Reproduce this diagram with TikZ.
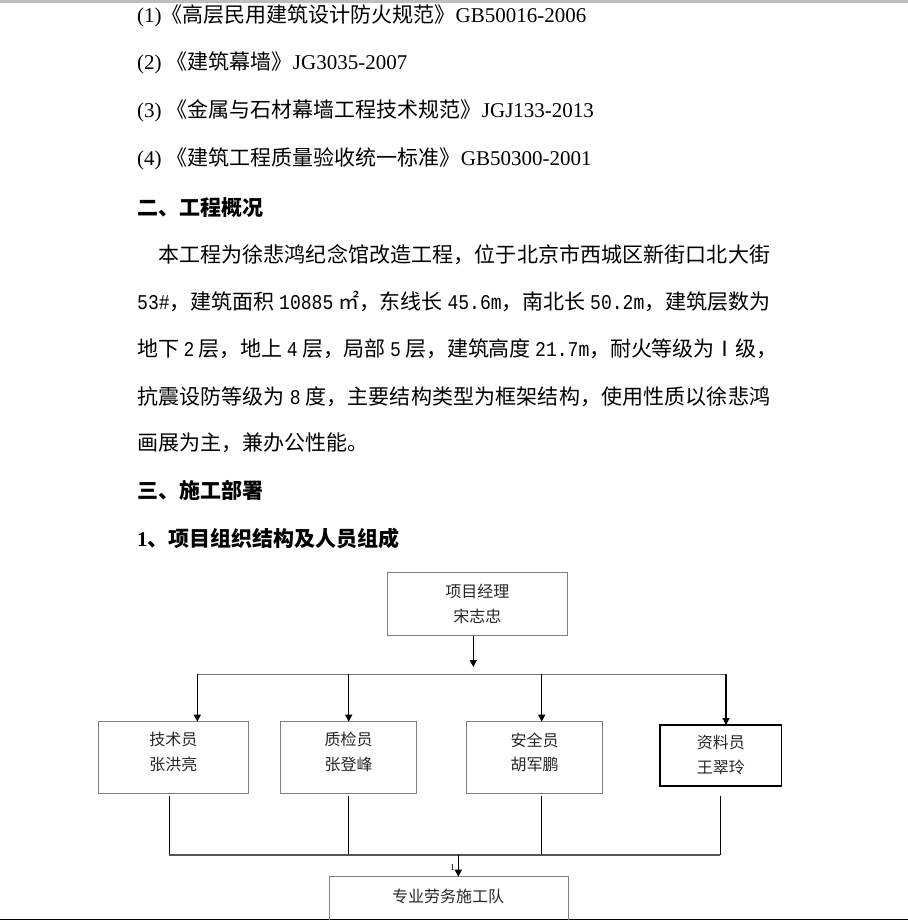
\documentclass[tikz,border=0pt]{standalone}
\usepackage{fontspec}
\setmainfont{Liberation Serif}
\newfontfamily\cjk{Noto Sans CJK SC}
\newfontfamily\numfont[FakeStretch=0.86]{Liberation Mono}
\usetikzlibrary{arrows.meta,positioning}

% glue between hanzi, so a line can be spread to the margin
\newXeTeXintercharclass\hzclass
\newcount\hzcnt
\hzcnt="4E00
\loop
  \XeTeXcharclass\hzcnt=\hzclass
  \advance\hzcnt by 1
\ifnum\hzcnt<"A000 \repeat
\XeTeXcharclass"3001=\hzclass
\XeTeXcharclass"3002=\hzclass
\XeTeXcharclass"300A=\hzclass
\XeTeXcharclass"300B=\hzclass
\XeTeXcharclass"FF0C=\hzclass
\XeTeXcharclass"33A1=\hzclass
\XeTeXcharclass"2160=\hzclass
\XeTeXinterchartoks\hzclass\hzclass={\hskip 0pt plus 3bp minus 1bp\relax}
\XeTeXinterchartokenstate=1

\definecolor{boxgray}{RGB}{128,128,128}
\definecolor{busgray}{RGB}{115,115,115}
\definecolor{lowgray}{RGB}{85,85,85}
\definecolor{rulegray}{RGB}{190,190,190}

\tikzset{
  txt/.style={anchor=west, inner sep=0pt, font=\fontsize{21bp}{25bp}\selectfont},
  box/.style={draw=boxgray, line width=1bp, inner sep=0pt, outer sep=0pt},
  lbl/.style={inner sep=0pt, align=center, text=black!85,
    font=\cjk\fontsize{16bp}{24.5bp}\selectfont},
  arr/.style={draw=black, line width=1.3bp, -{Triangle[length=7bp,width=7bp]}},
}

\begin{document}
\begin{tikzpicture}[x=1bp,y=-1bp]

\useasboundingbox (0,0) rectangle (908,920);
\clip (0,0) rectangle (908,920);

% page edges
\fill[rulegray] (0,0) rectangle (908,2.5);
\fill[black] (0,918.5) rectangle (908,920);

% text above the chart
\node[txt] (nRef1) at (137,16)  {(1){\cjk 《高层民用建筑设计防火规范》}GB50016-2006};
\node[txt] (nRef2) at (137,63)  {(2) {\cjk 《建筑幕墙》}JG3035-2007};
\node[txt] (nRef3) at (137,111) {(3) {\cjk 《金属与石材幕墙工程技术规范》}JGJ133-2013};
\node[txt] (nRef4) at (137,159) {(4) {\cjk 《建筑工程质量验收统一标准》}GB50300-2001};
\node[txt] (nHeadB) at (137,208) {\bfseries\cjk 二、工程概况};
\node[txt] (nPar1) at (158,255) {\cjk\makebox[612bp][s]{本工程为徐悲鸿纪念馆改造工程，位于北京市西城区新街口北大街}};
\node[txt] (nPar2) at (137,301.7) {\cjk\makebox[633bp][s]{{\numfont 53\#}，建筑面积 {\numfont 10885} ㎡，东线长 {\numfont 45.6m}，南北长 {\numfont 50.2m}，建筑层数为}};
\node[txt] (nPar3) at (137,349) {\cjk\makebox[640bp][s]{地下 {\numfont 2} 层，地上 {\numfont 4} 层，局部 {\numfont 5} 层，建筑高度 {\numfont 21.7m}，耐火等级为Ⅰ级，}};
\node[txt] (nPar4) at (137,396.5) {\cjk\makebox[633bp][s]{抗震设防等级为 {\numfont 8} 度，主要结构类型为框架结构，使用性质以徐悲鸿}};
\node[txt] (nPar5) at (137,443) {\cjk 画展为主，兼办公性能。};
\node[txt] (nHeadC) at (137,490) {\bfseries\cjk 三、施工部署};
\node[txt] (nHeadC1) at (137,538.3) {\bfseries 1{\cjk 、项目组织结构及人员组成}};

% chart
\node[box, minimum width=180bp, minimum height=63.3bp] (nPM) at (477.3,604.3) {};
\node[lbl] (nPMt) at (477.3,603.9) {项目经理\\宋志忠};
\foreach \n/\x/\y/\w/\h/\c/\lw/\ty/\a/\b in
{   nJS/173.3/757.5/150/71.6/boxgray/1/752/技术员/张洪亮,
    nZJ/348.5/757.5/135.6/71.6/boxgray/1/752/质检员/张登峰,
    nAQ/534.5/757.5/135.6/71.6/boxgray/1/752.5/安全员/胡军鹏,
    nZL/720.8/755.5/121.7/61/black/1.6/755/资料员/王翠玲%
}
{
    \node[box, draw=\c, line width=\lw bp, minimum width=\w bp, minimum height=\h bp] (\n) at (\x,\y) {};
    \node[lbl] (\n t) at (\x,\ty) {\a\\\b};
};
\node[box, minimum width=239.3bp, minimum height=44bp] (nDW) at (448.7,898.7) {};
\node[lbl] (nDWt) at (448,896.7) {专业劳务施工队};

\coordinate (cTopPt) at (473.3,667);
\coordinate (cBusLPt) at (197.3,674.3);
\coordinate (cBusRPt) at (726,674.3);
\coordinate (cMidPt) at (458.3,854.7);
\draw[arr] (nPM.south -| cTopPt) -- (cTopPt);
\draw[draw=busgray, line width=1.2bp] (cBusLPt) -- (cBusRPt);

\foreach \i/\u/\d/\n in
{   1/197.3/169.3/nJS,
    2/348.7/348.7/nZJ,
    3/541.7/541.3/nAQ,
    4/726/720/nZL%
}
{
    \coordinate (cT\i Pt) at (\u,674.3);
    \coordinate (cU\i Pt) at (\d,795.7);
    \coordinate (cD\i Pt) at (\d,854.7);
    \draw[arr] (cT\i Pt) -- (cT\i Pt |- \n.north);
    \draw[line width=1bp] (cU\i Pt) -- (cD\i Pt);
};
\draw[draw=lowgray, line width=2bp] (cD1Pt) -- (cD4Pt);
\draw[arr] (cMidPt) -- (cMidPt |- nDW.north);
\node[inner sep=0pt, font=\fontsize{9bp}{9bp}\selectfont] (nMark) at (452.5,868) {1};

\end{tikzpicture}
\end{document}
